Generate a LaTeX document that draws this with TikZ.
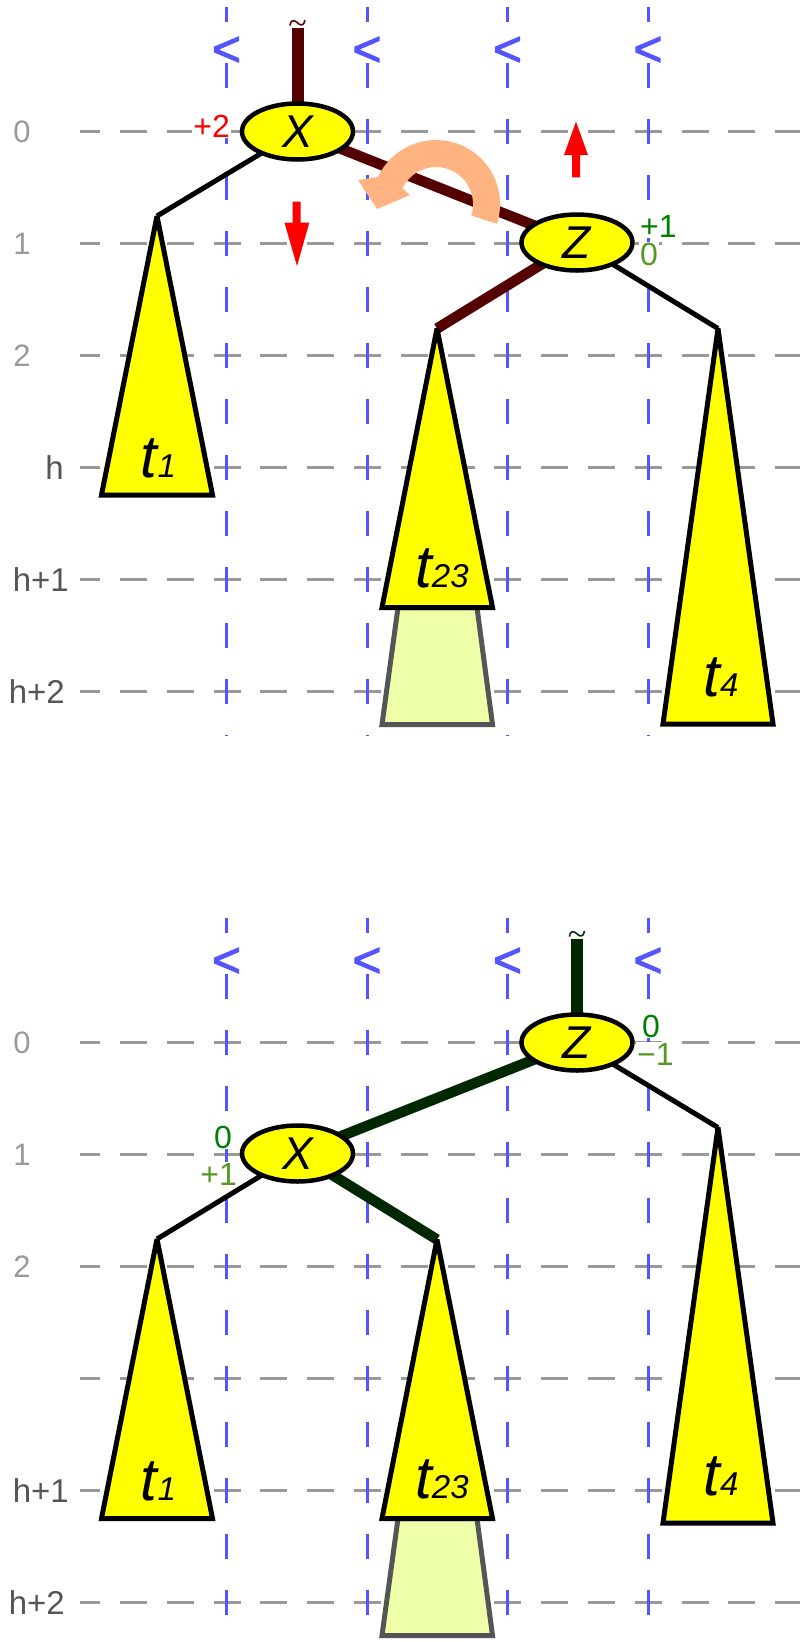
\documentclass[tikz,border=0pt]{standalone}
\usepackage{fontspec}
\setmainfont{Liberation Sans}
\newfontfamily\tildefont{Liberation Serif}
\newfontfamily\ltfont[FakeBold=2]{Liberation Sans}
\usetikzlibrary{shapes.geometric}
\pgfdeclarelayer{bg}
\pgfsetlayers{bg,main}
\definecolor{gridgray}{HTML}{999999}
\definecolor{gridblue}{HTML}{5555FF}
\definecolor{lbldark}{HTML}{555555}
\definecolor{lbllight}{HTML}{999999}
\definecolor{dkred}{HTML}{550000}
\definecolor{dkgreen}{HTML}{002800}
\definecolor{numgreen}{HTML}{008000}
\definecolor{numlight}{HTML}{559922}
\definecolor{salmon}{HTML}{FFB380}
\definecolor{treeyellow}{HTML}{FFFF00}
\definecolor{extfill}{HTML}{EEFFAA}
\definecolor{arrowred}{HTML}{FF0000}
\newcommand\myfs[1]{\fontsize{#1}{#1}\selectfont}
\newcommand\tlabel[1]{\myfs{60}\itshape t\myfs{33}#1}
\begin{document}
\begin{tikzpicture}[x=1pt,y=-1pt,
  hgrid/.style={draw=gridgray, line width=3pt, dash pattern=on 27pt off 19.8pt, dash phase=6.8pt},
  vgrid/.style={draw=gridblue, line width=3pt, dash pattern=on 25pt off 31pt},
  ltmark/.style={text=gridblue, inner sep=0pt, anchor=base, font=\ltfont\myfs{50}},
  keynode/.style={ellipse, draw=black, line width=4.5pt, fill=treeyellow, minimum width=111pt, minimum height=56pt, inner sep=0pt, font=\myfs{46}\itshape},
  subtree/.style={draw=black, line width=5pt, fill=treeyellow, miter limit=3},
  extbox/.style={draw=lbldark, line width=5pt, fill=extfill, miter limit=3},
  thinlink/.style={draw=black, line width=5pt},
  redlink/.style={draw=dkred, line width=10.5pt},
  greenlink/.style={draw=dkgreen, line width=10.5pt},
  lvllight/.style={text=lbllight, font=\myfs{31}, inner sep=1pt, anchor=base, fill=white},
  lvldark/.style={text=lbldark, font=\myfs{33}, inner sep=1pt, anchor=base east, fill=white},
  balnum/.style={font=\myfs{32}, inner sep=1pt, fill=white},
  tlbl/.style={inner sep=0pt, anchor=base},
  tildemark/.style={inner sep=0pt, anchor=base, font=\tildefont\myfs{34}},
  redarrow/.style={fill=arrowred}
]
\useasboundingbox (0,0) rectangle (800,1642);
\begin{pgfonlayer}{bg}
\fill[white] (0,0) rectangle (800,1642);
% ---------- grids ----------
\foreach \yy in {131,243,355,467,579,691,1042,1154,1266,1378,1490,1602}
  \draw[hgrid] (80,\yy) -- (800,\yy);
\foreach \xx in {226.5,367,507.5,648}{
  \draw[vgrid] (\xx,6.5) -- (\xx,735);
  \draw[vgrid] (\xx,917.5) -- (\xx,1642);
  \fill[white] (\xx-14,22) rectangle (\xx+14,63);
  \fill[white] (\xx-14,933) rectangle (\xx+14,974);
}
\node[ltmark] (lta) at (226.5,66) {<};
\node[ltmark] (ltb) at (367,66) {<};
\node[ltmark] (ltc) at (507.5,66) {<};
\node[ltmark] (ltd) at (648,66) {<};
\node[ltmark] (lte) at (226.5,977) {<};
\node[ltmark] (ltf) at (367,977) {<};
\node[ltmark] (ltg) at (507.5,977) {<};
\node[ltmark] (lth) at (648,977) {<};
\end{pgfonlayer}

% level labels
\node[lvllight] (a0) at (22,142) {0};
\node[lvllight] (a1) at (22,254) {1};
\node[lvllight] (a2) at (22,366) {2};
\node[lvldark] (ah) at (65,479) {h};
\node[lvldark] (ah1) at (70,591) {h+1};
\node[lvldark] (ah2) at (66,703) {h+2};
\node[lvllight] (b0) at (22,1053) {0};
\node[lvllight] (b1) at (22,1165) {1};
\node[lvllight] (b2) at (22,1277) {2};
\node[lvldark] (bh1) at (70,1502) {h+1};
\node[lvldark] (bh2) at (66,1614) {h+2};

% ---------- top tree ----------
\coordinate (Xstub) at (297.5,28);
\coordinate (t1top) at (157,216);
\coordinate (t23top) at (437,328.5);
\coordinate (t4top) at (718,328.5);
\node[keynode] (X) at (297.5,131.5) {X};
\node[keynode] (Z) at (577,242.5) {Z};
\begin{pgfonlayer}{bg}
  \draw[redlink, line width=12pt] (X.center) -- (Xstub);
  \draw[thinlink] (X.center) -- (t1top);
  \draw[redlink] (X.center) -- (Z.center);
  \draw[redlink] (Z.center) -- (t23top);
  \draw[thinlink] (Z.center) -- (t4top);
\end{pgfonlayer}
\node[tildemark, text=dkred] (tilX) at (297.5,34) {\char"007E};
\draw[subtree] (t1top) -- (212.5,495) -- (101.5,495) -- cycle;
\draw[extbox] (398,607.5) -- (477,607.5) -- (492.5,724.5) -- (382,724.5) -- cycle;
\draw[subtree] (t23top) -- (492.5,607.5) -- (382,607.5) -- cycle;
\draw[subtree] (t4top) -- (773,724) -- (663,724) -- cycle;
\node[tlbl] (lt1) at (158.5,477) {\tlabel{1}};
\node[tlbl] (lt23) at (442,587) {\tlabel{23}};
\node[tlbl] (lt4) at (721,696) {\tlabel{4}};
\node[balnum, text=arrowred, anchor=base east] (balX) at (231,137) {+2};
\node[balnum, text=numgreen, anchor=base west] (balZa) at (639,237) {+1};
\node[balnum, text=numlight, anchor=base west] (balZb) at (639,265) {0};
% red arrows
\fill[redarrow] (292.7,201.7) -- (300.7,201.7) -- (300.7,222.7) -- (309.3,222.7) -- (297,266) -- (284.5,222.7) -- (292.7,222.7) -- cycle;
\fill[redarrow] (576,121.7) -- (588,155) -- (580,155) -- (580,177.3) -- (572,177.3) -- (572,155) -- (564,155) -- cycle;
% rotation arrow
\fill[salmon] (496.9,223.8) arc[start angle=18, end angle=-155, radius=64] -- (358,180) -- (377,209) -- (410,195) -- (402.5,188.4) arc[start angle=-155, end angle=18, radius=37] -- cycle;

% ---------- bottom tree ----------
\coordinate (Zstub) at (577,939);
\coordinate (u1top) at (157,1239);
\coordinate (u23top) at (437,1239.5);
\coordinate (u4top) at (718,1127.5);
\node[keynode] (Z2) at (577,1042.5) {Z};
\node[keynode] (X2) at (297.5,1153.5) {X};
\begin{pgfonlayer}{bg}
  \draw[greenlink, line width=12pt] (Z2.center) -- (Zstub);
  \draw[greenlink] (Z2.center) -- (X2.center);
  \draw[thinlink] (Z2.center) -- (u4top);
  \draw[thinlink] (X2.center) -- (u1top);
  \draw[greenlink] (X2.center) -- (u23top);
\end{pgfonlayer}
\node[tildemark, text=dkgreen] (tilZ) at (577,945) {\char"007E};
\draw[subtree] (u1top) -- (212.5,1518.5) -- (101.5,1518.5) -- cycle;
\draw[extbox] (398,1518.5) -- (477,1518.5) -- (492.5,1635.5) -- (382,1635.5) -- cycle;
\draw[subtree] (u23top) -- (492.5,1518.5) -- (382,1518.5) -- cycle;
\draw[subtree] (u4top) -- (773,1523) -- (663,1523) -- cycle;
\node[tlbl] (mt1) at (158.5,1500) {\tlabel{1}};
\node[tlbl] (mt23) at (442,1498) {\tlabel{23}};
\node[tlbl] (mt4) at (721,1495) {\tlabel{4}};
\node[balnum, text=numgreen, anchor=base west] (balZc) at (641,1037) {0};
\node[balnum, text=numlight, anchor=base west] (balZd) at (636,1065) {−1};
\node[balnum, text=numgreen, anchor=base east] (balXc) at (233,1148) {0};
\node[balnum, text=numlight, anchor=base east] (balXd) at (238,1185) {+1};
\end{tikzpicture}
\end{document}
